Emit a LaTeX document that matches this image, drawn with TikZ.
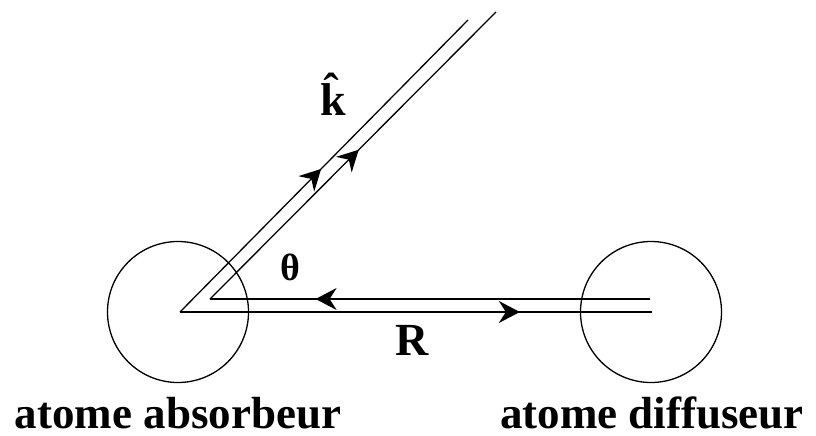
\documentclass[tikz,border=0pt]{standalone}
\usepackage{fontspec}
\setmainfont{Liberation Serif}
\usetikzlibrary{arrows.meta,decorations.markings}
\begin{document}
\begin{tikzpicture}[x=1pt,y=-1pt,
  ln/.style={line width=1.3pt},
  atom/.style={circle,draw,line width=1.3pt,minimum size=141pt,inner sep=0pt},
  lbl/.style={anchor=base,inner sep=0pt,font=\fontsize{46}{50}\selectfont\bfseries},
  midarrow/.style={postaction={decorate},decoration={markings,
     mark=at position #1 with {\arrow{Stealth[length=21pt,width=22pt,inset=7pt]}}}}]
\useasboundingbox (0,0) rectangle (816,436);
\node[atom] (abs) at (178,312) {};
\node[atom] (dif) at (651,312) {};
\coordinate (A) at (180,312);
\coordinate (B) at (210,299);
\coordinate (Ae) at (468,20);
\coordinate (Be) at (496,12);
\coordinate (Ah) at (652,312);
\coordinate (Bh) at (650,299);
\draw[ln,midarrow=0.49] (A) -- (Ae);
\draw[ln,midarrow=0.52] (B) -- (Be);
\draw[ln,midarrow=0.72] (A) -- (Ah);
\draw[ln,midarrow=0.76] (Bh) -- (B);
\node[lbl] (k) at (333,115) {\^k};
\node[lbl,font=\fontsize{38}{42}\selectfont\bfseries] (th) at (290,280) {θ};
\node[lbl] (R) at (412,355) {R};
\node[lbl,font=\fontsize{45}{50}\selectfont\bfseries] (la) at (178,428) {atome absorbeur};
\node[lbl,font=\fontsize{45}{50}\selectfont\bfseries] (ld) at (652,428) {atome diffuseur};
\end{tikzpicture}
\end{document}
